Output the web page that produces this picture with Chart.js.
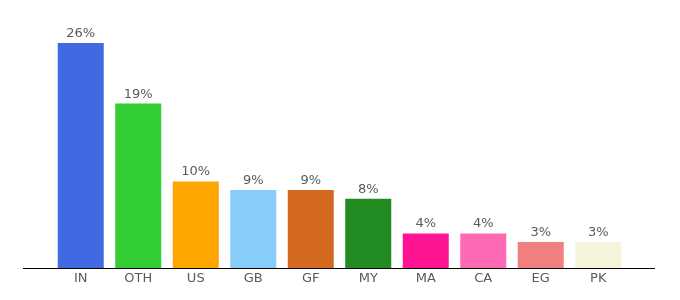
<!DOCTYPE html>
<html>
<head>
<meta charset="utf-8">
<script src="https://cdn.jsdelivr.net/npm/chart.js@4"></script>
<style>
  html, body { margin: 0; padding: 0; background: #fff; }
  #wrap { width: 680px; height: 300px; }
</style>
</head>
<body>
<div id="wrap"><canvas id="countryChart" width="680" height="300"></canvas></div>
<script>
const countries = ["IN", "OTH", "US", "GB", "GF", "MY", "MA", "CA", "EG", "PK"];
const shares = [26, 19, 10, 9, 9, 8, 4, 4, 3, 3];
const barColors = [
  "#4169e1", "#32cd32", "#ffa500", "#87cefa", "#d2691e",
  "#228b22", "#ff1493", "#ff69b4", "#f08080", "#f5f5dc"
];

// value labels on top of bars + the long baseline
const topLabels = {
  id: "topLabels",
  afterDatasetsDraw(chart) {
    const ctx = chart.ctx;
    const meta = chart.getDatasetMeta(0);
    ctx.save();
    ctx.font = "13px 'DejaVu Sans', Verdana, sans-serif";
    ctx.fillStyle = "#5a5a5a";
    ctx.textAlign = "center";
    ctx.textBaseline = "alphabetic";
    meta.data.forEach((bar, i) => {
      ctx.fillText(shares[i] + "%", bar.x, bar.y - 6);
    });
    const area = chart.chartArea;
    ctx.strokeStyle = "#000";
    ctx.lineWidth = 1;
    ctx.beginPath();
    ctx.moveTo(area.left - 29, Math.round(area.bottom) + 0.5);
    ctx.lineTo(area.right + 28, Math.round(area.bottom) + 0.5);
    ctx.stroke();
    ctx.restore();
  }
};

new Chart(document.getElementById("countryChart").getContext("2d"), {
  type: "bar",
  data: {
    labels: countries,
    datasets: [
      {
        data: shares,
        backgroundColor: barColors,
        categoryPercentage: 0.8,
        barPercentage: 1
      }
    ]
  },
  options: {
    responsive: false,
    animation: false,
    layout: { padding: { left: 52, right: 53, top: 43, bottom: 0 } },
    plugins: { legend: { display: false }, tooltip: { enabled: false } },
    scales: {
      x: {
        grid: { display: false },
        border: { display: false },
        ticks: {
          color: "#5a5a5a",
          font: { family: "'DejaVu Sans', Verdana, sans-serif", size: 13 },
          padding: -5
        },
        afterFit: (scale) => { scale.height = 32; }
      },
      y: { display: false, min: 0, max: 26 }
    }
  },
  plugins: [topLabels]
});
</script>
</body>
</html>
